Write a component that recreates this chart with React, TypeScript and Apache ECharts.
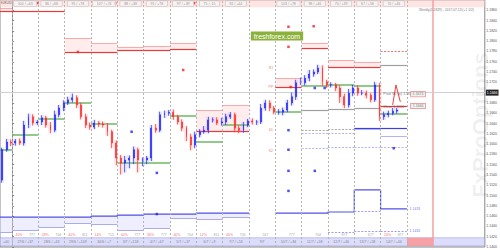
import React, { useEffect, useRef } from 'react';
import * as echarts from 'echarts';

// ---- price data (4-hour bars) ----
const firstOpen = 1.153;
const closes = [
  1.1589, 1.1604, 1.1602, 1.1606, 1.1602, 1.1637, 1.1653, 1.1641, 1.1643, 1.1651,
  1.1637, 1.1627, 1.1657, 1.167, 1.168, 1.1686, 1.169, 1.1676, 1.1653, 1.1637,
  1.1633, 1.1641, 1.1639, 1.1637, 1.1624, 1.1602, 1.1573, 1.1563, 1.1569, 1.1573,
  1.1589, 1.1569, 1.1569, 1.1573, 1.1631, 1.1627, 1.1657, 1.166, 1.1662, 1.1653,
  1.1643, 1.1631, 1.1614, 1.1598, 1.1618, 1.1624, 1.1627, 1.1647, 1.1647, 1.1641,
  1.1643, 1.1653, 1.1657, 1.1631, 1.1627, 1.1637, 1.1645, 1.1643, 1.1643, 1.167,
  1.168, 1.167, 1.1662, 1.1662, 1.1666, 1.168, 1.1692, 1.1719, 1.1719, 1.1728,
  1.1736, 1.174, 1.1748, 1.1721, 1.1715, 1.1715, 1.1709, 1.1692, 1.1676, 1.1699,
  1.1709, 1.1699, 1.1699, 1.1695, 1.1686, 1.1715, 1.1653, 1.1657, 1.166, 1.1664,
  1.1666,
];
const wickHiPips = [
  4, 6, 5, 4, 5, 8, 6, 5, 4, 5,
  4, 6, 8, 6, 5, 6, 8, 5, 4, 6,
  5, 6, 4, 5, 4, 4, 5, 6, 8, 5,
  6, 4, 5, 4, 6, 8, 6, 5, 4, 5,
  4, 5, 4, 6, 6, 5, 8, 6, 5, 5,
  8, 6, 5, 4, 5, 6, 4, 5, 4, 8,
  6, 5, 4, 6, 5, 6, 8, 6, 10, 6,
  8, 5, 6, 5, 4, 5, 4, 5, 6, 8,
  6, 5, 6, 5, 4, 6, 4, 6, 5, 6,
  4,
];
const wickLoPips = [
  5, 4, 6, 5, 4, 5, 6, 5, 4, 6,
  5, 6, 4, 5, 6, 4, 5, 6, 5, 6,
  5, 4, 6, 5, 8, 10, 14, 22, 18, 16,
  12, 24, 12, 8, 6, 5, 4, 6, 5, 6,
  5, 6, 8, 10, 6, 5, 4, 6, 5, 4,
  5, 6, 4, 8, 6, 5, 4, 5, 6, 4,
  5, 6, 4, 5, 6, 4, 5, 6, 4, 5,
  6, 5, 4, 8, 6, 5, 6, 12, 6, 5,
  6, 5, 4, 6, 5, 4, 8, 6, 5, 4,
  5,
];
const firstBarHour = -9;
const barHours = 4;

// ---- axis / time frame (hours) ----
const xMinHour = -11;
const xMaxHour = 431;
const daySeparators = [0, 24, 48, 72, 96, 120, 144, 168, 192, 216, 240, 264, 288, 312, 336, 360];
const nowHour = 384;
const yMin = 1.14;
const yMax = 1.188;
const yStep = 0.002;
const currentPrice = 1.1666;

// ---- daily levels (days -1 .. 15) ----
const days = [-1, 0, 1, 2, 3, 4, 5, 6, 7, 8, 9, 10, 11, 12, 13, 14, 15];
const greenLevels = [1.1589, 1.1618, 1.1649, 1.168, 1.1639, 1.1563, 1.1563, 1.1655, 1.1604, 1.1637, null, 1.1662, 1.1713, 1.1715, 1.1713, 1.1658, null];
const redLevels = [1.1859, 1.1859, 1.1859, 1.1779, 1.1779, 1.1783, 1.1783, 1.1785, 1.1625, 1.1625, null, 1.1711, 1.1787, 1.175, 1.175, null, null];
const redBandTops = [1.1864, null, null, 1.1806, 1.1795, 1.1789, 1.1791, 1.1796, 1.1666, 1.1676, null, 1.1728, 1.1796, 1.1763, 1.176, null, null];
const blueLevels = [1.1458, 1.1458, 1.1458, 1.1458, 1.146, 1.1462, 1.1464, 1.1464, 1.1466, 1.1466, null, 1.1466, 1.1466, 1.1468, 1.1511, 1.1474, null];
const blueLightLevels = [1.1429, 1.1433, 1.1439, 1.1447, 1.1445, 1.1433, 1.1437, 1.1456, 1.1453, 1.1458, null, null, null, null, null, null, null];
// sparse levels: [day, price]
const grayLevels = [[11, 1.1666], [12, 1.1668], [13, 1.167], [14, 1.1754]];
const grayDashLevels = [[11, 1.1627], [12, 1.1629]];
const lavDashLevels = [[11, 1.1622], [12, 1.1622], [11, 1.1592], [12, 1.1594], [13, 1.1594], [14, 1.1594]];
const blueMidLevels = [[13, 1.1631], [14, 1.1631]];
const lavMidLevels = [[13, 1.1629], [14, 1.1616]];
const redMidLevels = [[14, 1.1674]];
const redDashLevels = [[14, 1.1781]];
const blueDashLevels = [[12, 1.1429], [13, 1.1431], [14, 1.1431], [13, 1.147]];

// ---- markers ----
const redDots = [[60, 1.1779], [23, 1.1874], [94, 1.1874], [166, 1.1874], [156, 1.1744], [252, 1.1828], [275, 1.1829], [252, 1.1789], [254, 1.1711]];
const blueDots = [[252, 1.1627], [252, 1.1589], [252, 1.1548], [252, 1.1509], [276, 1.1709], [285, 1.1709], [276, 1.1548], [109, 1.1624], [132, 1.1544], [132, 1.1464], [348, 1.1592]];
const forecast = [[347, 1.1676], [350, 1.1715], [354, 1.1682]];

// ---- texts ----
const topLabels = ['', '100 / +63', '86 / +68', '95 / +78', '107 / +74', '88 / +38', '91 / +78', '97 / +39', '75 / -15', '81 / +44', '', '103 / +78', '98 / +46', '70 / +39', '67 / +58', '70 / +46', ''];
const bottomLabels = ['+40', '27/6 / +37', '28/6 / +43', '29/6 / +109', '30/6 / +7', '3/7 / +158', '4/7 / +67', '5/7 / +37', '6/7 / +9', '7/7 / +56', '9/7', '10/7 / +84', '11/7 / +58', '12/7 / +46', '13/7 / +58', '14/7 / +46', ''];
const pctLabels = ['', '40%', '28%', '40%', '14%', '40%', '36%', '40%', '12%', '40%', '', '', '', '', '', '24%', ''];
const rangeLabels = ['', '777', '704', '811', '715', '777', '777', '704', '811', '703', '567', '777', '704', '877', '677', '877', ''];
const pivotTags = [[236, 1.1748, 'R1'], [236, 1.1711, 'PP'], [236, 1.1627, 'S1'], [236, 1.1586, 'S2']];
const sideNotes = [[338, 1.1697, 'Pivot S1 (w) 1.1674'], [338, 1.1673, 'Close 1.1666']];
const sideBoxes = [[363, 1.1697, '1.1674'], [363, 1.1674, '1.1666']];
const blueTags = [[362, 1.1474, '1.1474'], [362, 1.1431, '1.1431']];

const dayStart = (d: number) => Math.max(xMinHour, d * 24);
const dayEnd = (d: number) => d * 24 + 24;
const dayMid = (d: number) => (dayStart(d) + dayEnd(d)) / 2;

const fullSegs = (levels: (number | null)[]) =>
  levels.flatMap((v, k) => (v == null ? [] : [[{ coord: [dayStart(days[k]), v] }, { coord: [dayEnd(days[k]), v] }]]));
const pairSegs = (pairs: number[][]) =>
  pairs.map(([d, v]) => [{ coord: [dayStart(d), v] }, { coord: [dayEnd(d), v] }]);

const levelSeries = (data: any[], color: string, width: number, type: any = 'solid', z = 3) => ({
  type: 'line',
  data: [],
  z,
  silent: true,
  markLine: {
    silent: true,
    symbol: ['none', 'none'],
    label: { show: false },
    lineStyle: { color, width, type },
    data,
  },
});

const textSeries = (data: any[], label: any, z = 8) => ({
  type: 'scatter',
  symbolSize: 1,
  itemStyle: { color: 'rgba(0,0,0,0)' },
  silent: true,
  z,
  data,
  label: { show: true, formatter: (p: any) => p.name, fontFamily: 'Arial', ...label },
});

export default function App() {
  const ref = useRef<HTMLDivElement>(null);
  useEffect(() => {
    if (!ref.current) return;
    const chart = echarts.init(ref.current, undefined, { renderer: 'svg' });

    const opens = closes.map((c, i) => (i === 0 ? firstOpen : closes[i - 1]));
    const candles = closes.map((c, i) => {
      const o = opens[i];
      const hi = Math.max(o, c) + wickHiPips[i] * 0.0001;
      const lo = Math.min(o, c) - wickLoPips[i] * 0.0001;
      return [firstBarHour + barHours * i, o, c, lo, hi];
    });
    const halo = candles.map(([t, o, c, lo, hi]) => (c >= o ? [t, lo, hi, lo, hi] : [t, hi, lo, lo, hi]));

    const redBandAreas = redLevels.flatMap((v, k) =>
      v == null || redBandTops[k] == null
        ? []
        : [[{ coord: [dayStart(days[k]), redBandTops[k]] }, { coord: [dayEnd(days[k]), v] }]]
    );
    const blueBandAreas = blueLevels.flatMap((v, k) =>
      v == null || blueLightLevels[k] == null
        ? []
        : [[{ coord: [dayStart(days[k]), v] }, { coord: [dayEnd(days[k]), blueLightLevels[k]] }]]
    );
    const bluePath: any[] = [];
    blueLevels.forEach((v, k) => {
      bluePath.push([dayStart(days[k]), v == null ? '-' : v]);
      if (v != null) bluePath.push([dayEnd(days[k]), v]);
    });

    const option: any = {
      animation: false,
      backgroundColor: '#ffffff',
      grid: { left: 0, right: 12, top: 0, bottom: 3, show: true, borderColor: '#888', borderWidth: 1 },
      xAxis: { type: 'value', min: xMinHour, max: xMaxHour, show: false },
      yAxis: {
        type: 'value',
        position: 'right',
        min: yMin,
        max: yMax,
        interval: yStep,
        axisLine: { show: true, lineStyle: { color: '#888' } },
        axisTick: { show: true, length: 2, lineStyle: { color: '#888' } },
        splitLine: { show: false },
        axisLabel: {
          fontSize: 3.5,
          color: '#555',
          margin: 1.5,
          showMaxLabel: false,
          fontFamily: 'Arial',
          formatter: (v: number) => v.toFixed(4),
        },
      },
      graphic: [
        {
          type: 'text', x: 480, y: 125, rotation: Math.PI / 2, silent: true, z: 0,
          style: { text: 'FxProOptions', fill: 'rgba(0,0,0,0.07)', fontSize: 22, fontWeight: 'bold', fontFamily: 'Arial', align: 'center', verticalAlign: 'middle' },
        },
        {
          type: 'text', x: 277, y: 36, silent: true, z: 20,
          style: { text: 'freshforex.com', fill: '#ffffff', backgroundColor: '#8bb13b', padding: [1, 3, 1, 3], fontSize: 7, fontFamily: 'Arial', align: 'center', verticalAlign: 'middle' },
        },
        {
          type: 'text', x: 1, y: 1.5, silent: true, z: 20,
          style: { text: 'EURUSD', fill: '#666', fontSize: 2.6, fontFamily: 'Arial' },
        },
        {
          type: 'text', x: 419, y: 8.5, silent: true, z: 20,
          style: { text: 'Weekly(1.1829) - 2017.07.13 (+1 1/2)', fill: '#777', fontSize: 3.3, fontFamily: 'Arial' },
        },
      ],
      series: [
        {
          type: 'line', data: [], z: 1, silent: true,
          markArea: {
            silent: true,
            data: [
              [{ coord: [xMinHour, yMax], itemStyle: { color: 'rgba(255,205,205,0.55)' } }, { coord: [xMaxHour, 1.1866] }],
              [{ coord: [xMinHour, 1.1418], itemStyle: { color: 'rgba(205,205,250,0.7)', borderColor: 'rgba(140,140,220,0.9)', borderWidth: 0.5 } }, { coord: [xMaxHour, 1.1402] }],
              [{ coord: [360, 1.1418], itemStyle: { color: 'rgba(250,150,150,0.85)' } }, { coord: [nowHour, 1.1402] }],
              ...redBandAreas.map((a) => [{ ...a[0], itemStyle: { color: 'rgba(255,190,190,0.28)' } }, a[1]]),
              ...blueBandAreas.map((a) => [{ ...a[0], itemStyle: { color: 'rgba(205,205,255,0.35)' } }, a[1]]),
            ],
          },
        },
        {
          type: 'line', data: [], z: 2, silent: true,
          markLine: {
            silent: true, symbol: ['none', 'none'], label: { show: false },
            lineStyle: { color: '#b4b4b4', width: 1, type: [2, 2] },
            data: daySeparators.map((h) => ({ xAxis: h })),
          },
        },
        {
          type: 'line', data: [], z: 2, silent: true,
          markLine: {
            silent: true, symbol: ['none', 'none'], label: { show: false },
            lineStyle: { color: '#f5a0a0', width: 1.5, type: 'solid' },
            data: [{ xAxis: nowHour }],
          },
        },
        levelSeries(fullSegs(redBandTops), 'rgba(255,150,150,0.8)', 1),
        levelSeries(fullSegs(redLevels), '#e83a3a', 1.2),
        levelSeries(pairSegs(redMidLevels), '#e83a3a', 1.2),
        levelSeries(pairSegs(redDashLevels), '#f07070', 1, [2, 1.5]),
        levelSeries(fullSegs(greenLevels), '#6cb864', 1.5),
        levelSeries(pairSegs(grayLevels), '#a0a0a0', 1.2),
        levelSeries(pairSegs(grayDashLevels), '#a8a8a8', 1, [2, 1.5]),
        levelSeries(pairSegs(lavDashLevels), '#b4b4f0', 1, [2, 1.5]),
        levelSeries(pairSegs(blueMidLevels), '#3c3ce8', 1.2),
        levelSeries(pairSegs(lavMidLevels), '#b4b4f0', 1),
        levelSeries(fullSegs(blueLightLevels), '#aaaaf0', 1),
        levelSeries(pairSegs(blueDashLevels), '#9c9cf0', 1, [2, 1.5]),
        {
          type: 'line', data: bluePath, z: 4, silent: true, symbol: 'none', connectNulls: false,
          lineStyle: { color: '#5050e8', width: 1.2 },
        },
        {
          type: 'candlestick', data: halo, z: 5, silent: true, barWidth: 3.5,
          encode: { x: 0, y: [1, 2, 3, 4] },
          itemStyle: {
            color: 'rgba(130,130,255,0.25)', color0: 'rgba(255,130,130,0.25)',
            borderColor: 'rgba(130,130,255,0.12)', borderColor0: 'rgba(255,130,130,0.12)', borderWidth: 0.5,
          },
        },
        {
          type: 'candlestick', data: candles, z: 6, silent: true, barWidth: 1.4,
          encode: { x: 0, y: [1, 2, 3, 4] },
          itemStyle: { color: '#1a1aff', color0: '#ff2020', borderColor: '#1a1aff', borderColor0: '#ff2020', borderWidth: 0.6 },
          markLine: {
            silent: true, symbol: ['none', 'none'],
            lineStyle: { color: '#d0d0d0', width: 1, type: 'solid' },
            label: {
              show: true, position: 'end', formatter: currentPrice.toFixed(4), fontSize: 3.5,
              color: '#fff', backgroundColor: '#222', padding: [1, 1], distance: 1, fontFamily: 'Arial',
            },
            data: [{ yAxis: currentPrice }],
          },
        },
        {
          type: 'line', data: forecast, z: 7, silent: true, symbol: 'none',
          lineStyle: { color: '#f04040', width: 1 },
        },
        {
          type: 'scatter', data: redDots, z: 7, silent: true, symbol: 'rect', symbolSize: 2.5,
          itemStyle: { color: '#ee2222' },
        },
        {
          type: 'scatter', data: blueDots, z: 7, silent: true, symbol: 'rect', symbolSize: 2.5,
          itemStyle: { color: '#2222ee' },
        },
        textSeries(
          topLabels.flatMap((t, k) => (t ? [{ name: t, value: [dayMid(days[k]), 1.1873] }] : [])),
          {
            position: 'inside', fontSize: 3.5, color: '#777', backgroundColor: '#f6f6f6',
            borderColor: '#b8b8b8', borderWidth: 0.5, padding: [0.5, 4],
          }
        ),
        textSeries(
          bottomLabels.flatMap((t, k) => (t ? [{ name: t, value: [dayMid(days[k]), 1.141] }] : [])),
          { position: 'inside', fontSize: 3.5, color: '#666' }
        ),
        textSeries(
          pctLabels.map((t, k) => ({ name: `${t}|${rangeLabels[k]}`, value: [dayMid(days[k]), 1.1424] })).filter((d) => d.name !== '|'),
          {
            position: 'inside',
            formatter: (p: any) => {
              const [a, b] = p.name.split('|');
              return `{r|${a}}  {g|${b}}`;
            },
            rich: { r: { fontSize: 3.5, color: '#f04040' }, g: { fontSize: 3.5, color: '#888' } },
          }
        ),
        textSeries(
          pivotTags.map(([h, v, t]) => ({ name: t, value: [h, v] })),
          { position: 'inside', fontSize: 3.5, color: '#e05050' }
        ),
        textSeries(
          sideNotes.map(([h, v, t]) => ({ name: t, value: [h, v] })),
          { position: 'right', distance: 0, fontSize: 3.5, color: '#555' }
        ),
        textSeries(
          sideBoxes.map(([h, v, t]) => ({ name: t, value: [h, v] })),
          { position: 'right', distance: 0, fontSize: 3.5, color: '#555', backgroundColor: '#eee', borderColor: '#e05050', borderWidth: 0.5, padding: [0.5, 2] }
        ),
        textSeries(
          blueTags.map(([h, v, t]) => ({ name: t, value: [h, v] })),
          { position: 'right', distance: 0, fontSize: 3.5, color: '#4040e0' }
        ),
      ],
    };
    chart.setOption(option);
    return () => chart.dispose();
  }, []);
  return <div ref={ref} style={{ position: 'absolute', left: 0, top: 0, width: 500, height: 250 }} />;
}
